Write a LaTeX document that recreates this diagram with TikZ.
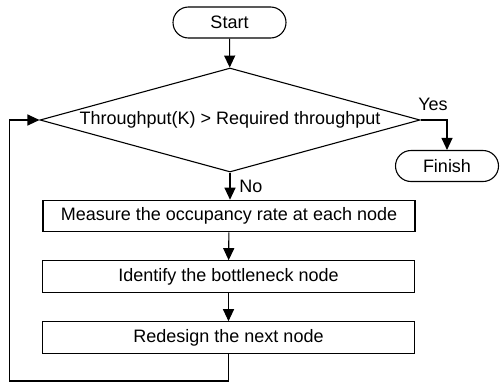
\documentclass[tikz,border=0pt]{standalone}
\usepackage{fontspec}
\setmainfont{Liberation Sans}
\usetikzlibrary{arrows.meta,shapes.geometric}
\begin{document}
\begin{tikzpicture}[x=1pt,y=-1pt,
  every node/.style={font=\fontsize{18}{20}\selectfont, inner sep=0pt},
  term/.style={draw, line width=1.1pt, rounded corners=15.5pt, minimum height=31pt},
  proc/.style={draw, line width=1.1pt, minimum width=372pt, minimum height=31.5pt},
  dec/.style={draw, line width=1.1pt, diamond, shape aspect=3.65, minimum width=380pt, minimum height=104pt},
  conn/.style={line width=1.1pt, -{Triangle[length=12pt,width=11pt]}},
  line/.style={line width=1.1pt}]
\useasboundingbox (0,0) rectangle (500,383);
\node[term, minimum width=113pt] (start) at (229.5,22.5) {Start};
\node[dec] (d) at (230,120) {Throughput(K) > Required throughput};
\node[term, minimum width=103pt] (fin) at (447,166) {Finish};
\node[proc] (r1) at (229,216) {Measure the occupancy rate at each node};
\node[proc] (r2) at (228.5,276.5) {Identify the bottleneck node};
\node[proc] (r3) at (228.5,337.5) {Redesign the next node};
\node (yes) at (433,104) {Yes};
\node (no) at (251,186) {No};
\coordinate (lb) at (9.5,381);
\draw[conn] (start) -- (d);
\draw[conn] (d.east) -| (fin.north);
\draw[conn] (d.south) -- (d.south |- r1.north);
\draw[conn] (r1) -- (r2);
\draw[conn] (r2) -- (r3);
\draw[conn] (r3.south) |- (lb) |- (d.west);
\end{tikzpicture}
\end{document}
